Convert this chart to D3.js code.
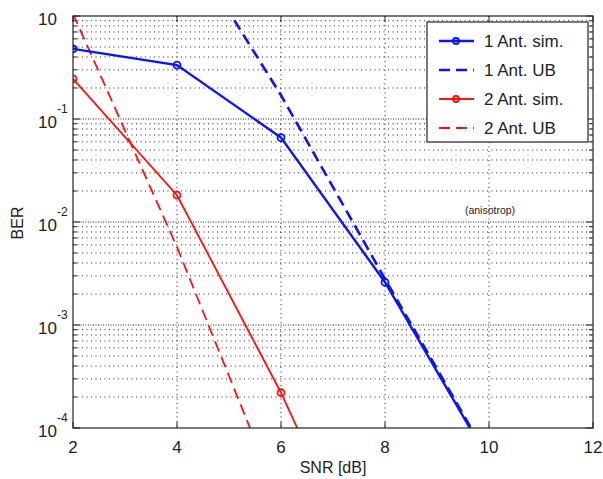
<!DOCTYPE html>
<html>
<head>
<meta charset="utf-8">
<script src="https://cdn.jsdelivr.net/npm/d3@7"></script>
<style>
body { margin: 0; background: #fff; }
text { font-family: "Liberation Sans", Arial, sans-serif; fill: #222; }
</style>
</head>
<body>
<svg id="chart" width="603" height="479"></svg>
<script>
// values
var snr = [2, 4, 6, 8, 10];
var ber1Sim = [0.48, 0.334, 0.066, 0.0026, 4.8e-5];
var snr2Sim = [2, 4, 6, 8];
var ber2Sim = [0.245, 0.0182, 2.2e-4, 1.4e-6];
var snrUB1 = [4, 5, 6, 8, 10];
var ber1UB = [6, 1.1, 0.17, 2.8e-3, 5e-5];
var snrUB2 = [2, 4, 6];
var ber2UB = [1.05, 5.7e-3, 1.8e-5];

var xTicks = [2, 4, 6, 8, 10, 12];
var yDecades = [0, -1, -2, -3, -4];
var legendNames = ["1 Ant. sim.", "1 Ant. UB", "2 Ant. sim.", "2 Ant. UB"];

var plotLeft = 73, plotRight = 593, plotTop = 16, plotBottom = 428;

var svg = d3.select("#chart");

var x = d3.scaleLinear().domain([2, 12]).range([plotLeft, plotRight]);
var y = d3.scaleLog().domain([1e-4, 1]).range([plotBottom, plotTop]);

svg.append("defs").append("clipPath").attr("id", "clip")
	.append("rect").attr("x", plotLeft).attr("y", plotTop)
	.attr("width", plotRight - plotLeft).attr("height", plotBottom - plotTop);

// grid
var grid = svg.append("g");
var minorVals = [];
for (var d = -4; d < 0; d++)
{
	for (var m = 2; m <= 9; m++) minorVals.push(m * Math.pow(10, d));
}
grid.selectAll(".minor").data(minorVals).enter().append("line")
	.attr("x1", plotLeft).attr("x2", plotRight)
	.attr("y1", function(v) { return y(v); }).attr("y2", function(v) { return y(v); })
	.style("stroke", "#222").style("stroke-width", 1).style("stroke-dasharray", "1,3.5");
grid.selectAll(".major").data(yDecades.slice(1, 4)).enter().append("line")
	.attr("x1", plotLeft).attr("x2", plotRight)
	.attr("y1", function(e) { return y(Math.pow(10, e)); }).attr("y2", function(e) { return y(Math.pow(10, e)); })
	.style("stroke", "#222").style("stroke-width", 1).style("stroke-dasharray", "1,1.5");
grid.selectAll(".vert").data(xTicks.slice(1, 5)).enter().append("line")
	.attr("x1", function(v) { return x(v); }).attr("x2", function(v) { return x(v); })
	.attr("y1", plotTop).attr("y2", plotBottom)
	.style("stroke", "#222").style("stroke-width", 1).style("stroke-dasharray", "1,3.5");

// ticks (inward)
var ticks = svg.append("g").style("stroke", "#222").style("stroke-width", 1);
xTicks.forEach(function(v) {
	ticks.append("line").attr("x1", x(v)).attr("x2", x(v)).attr("y1", plotBottom).attr("y2", plotBottom - 6);
	ticks.append("line").attr("x1", x(v)).attr("x2", x(v)).attr("y1", plotTop).attr("y2", plotTop + 6);
});
minorVals.forEach(function(v) {
	ticks.append("line").attr("x1", plotLeft).attr("x2", plotLeft + 4).attr("y1", y(v)).attr("y2", y(v));
	ticks.append("line").attr("x1", plotRight).attr("x2", plotRight - 4).attr("y1", y(v)).attr("y2", y(v));
});
yDecades.forEach(function(e) {
	var yy = y(Math.pow(10, e));
	ticks.append("line").attr("x1", plotLeft).attr("x2", plotLeft + 7).attr("y1", yy).attr("y2", yy);
	ticks.append("line").attr("x1", plotRight).attr("x2", plotRight - 7).attr("y1", yy).attr("y2", yy);
});

// data lines
var plot = svg.append("g").attr("clip-path", "url(#clip)");
function logLine(xs)
{
	return d3.line()
		.x(function(d, i) { return x(xs[i]); })
		.y(function(d) { return y(d); });
}
function drawSeries(xs, ys, color, width, dash, markers)
{
	plot.append("path").datum(ys)
		.attr("d", logLine(xs))
		.style("fill", "none").style("stroke", color)
		.style("stroke-width", width)
		.style("stroke-dasharray", dash);
	if (markers)
	{
		plot.selectAll(null).data(ys).enter().append("circle")
			.attr("cx", function(d, i) { return x(xs[i]); })
			.attr("cy", function(d) { return y(d); })
			.attr("r", 3.5)
			.style("fill", "none").style("stroke", color).style("stroke-width", 1.8);
	}
}
drawSeries(snrUB1, ber1UB, "#0a14ff", 2.6, "11,6", false);
drawSeries(snrUB2, ber2UB, "#ff1010", 1.8, "11,6", false);
drawSeries(snr2Sim, ber2Sim, "#ff1010", 1.8, null, true);
drawSeries(snr, ber1Sim, "#0a14ff", 2.4, null, true);

// axes box
svg.append("rect").attr("x", plotLeft).attr("y", plotTop)
	.attr("width", plotRight - plotLeft).attr("height", plotBottom - plotTop)
	.style("fill", "none").style("stroke", "#222").style("stroke-width", 1.2);

// tick labels
svg.selectAll(".xl").data(xTicks).enter().append("text")
	.attr("x", function(v) { return x(v); }).attr("y", 453)
	.attr("text-anchor", "middle").style("font-size", "17px")
	.text(function(v) { return v; });

yDecades.forEach(function(e) {
	var yy = y(Math.pow(10, e));
	svg.append("text").attr("x", 57).attr("y", yy + 9)
		.attr("text-anchor", "end").style("font-size", "17px").text("10");
	if (e != 0)
	{
		svg.append("text").attr("x", 57).attr("y", yy - 6)
			.style("font-size", "12px").text(e);
	}
});

svg.append("text").attr("x", 333).attr("y", 473)
	.attr("text-anchor", "middle").style("font-size", "16px").text("SNR [dB]");
svg.append("text").attr("transform", "translate(23,223) rotate(-90)")
	.attr("text-anchor", "middle").style("font-size", "16px").text("BER");
svg.append("text").attr("x", 490).attr("y", 214)
	.attr("text-anchor", "middle").style("font-size", "10.5px").text("(anisotrop)");

// legend
var legend = svg.append("g");
legend.append("rect").attr("x", 427).attr("y", 22).attr("width", 161).attr("height", 120)
	.style("fill", "#fff").style("stroke", "#222").style("stroke-width", 1.2);
var legendColors = ["#0a14ff", "#0a14ff", "#ff1010", "#ff1010"];
var legendDash = [null, "11,6", null, "11,6"];
var legendWidth = [2.4, 2.6, 1.8, 1.8];
legendNames.forEach(function(name, i) {
	var ly = 41 + i * 29;
	legend.append("line").attr("x1", 439).attr("x2", 474).attr("y1", ly).attr("y2", ly)
		.style("stroke", legendColors[i]).style("stroke-width", legendWidth[i])
		.style("stroke-dasharray", legendDash[i]);
	if (!legendDash[i])
	{
		legend.append("circle").attr("cx", 456).attr("cy", ly).attr("r", 3)
			.style("fill", "none").style("stroke", legendColors[i]).style("stroke-width", 1.8);
	}
	legend.append("text").attr("x", 484).attr("y", ly + 6)
		.style("font-size", "17px").text(name);
});
</script>
</body>
</html>
